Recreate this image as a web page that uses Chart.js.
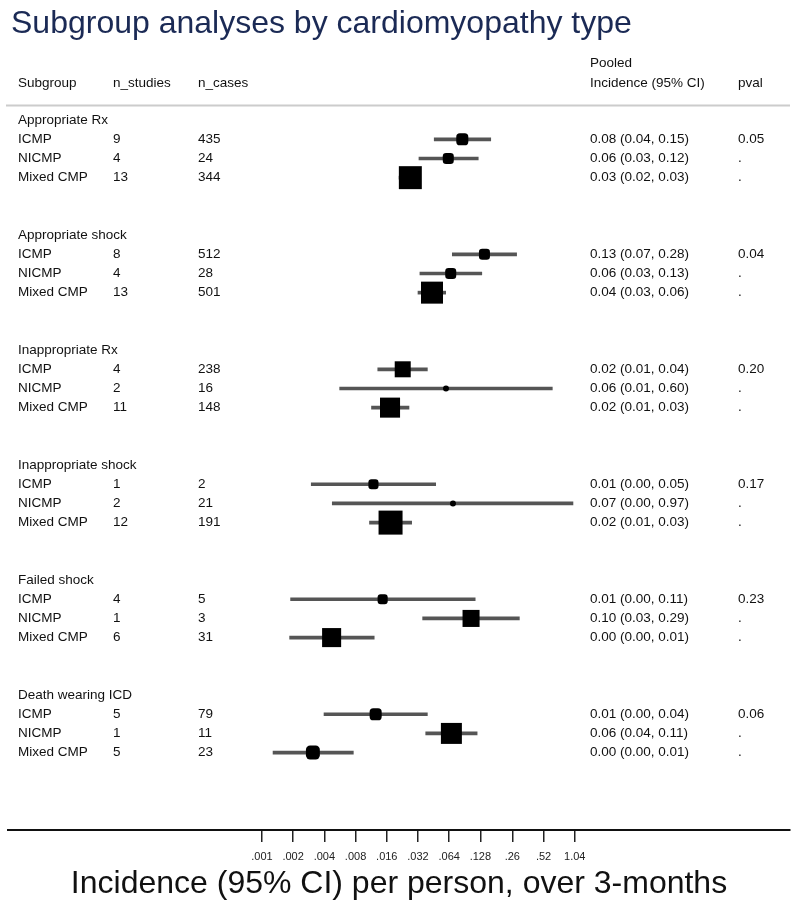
<!DOCTYPE html>
<html><head><meta charset="utf-8">
<script src="https://cdn.jsdelivr.net/npm/chart.js@4/dist/chart.umd.min.js"></script>
<style>html,body{margin:0;padding:0;background:#fff}#wrap{position:relative;width:796px;height:905px}</style>
</head><body><div id="wrap"><canvas id="c" width="796" height="905"></canvas></div>
<script>
const chartTitle = "Subgroup analyses by cardiomyopathy type";
const axisTitle = "Incidence (95% CI) per person, over 3-months";
const groups = ["Appropriate Rx","Appropriate shock","Inappropriate Rx","Inappropriate shock","Failed shock","Death wearing ICD"];
const cmpTypes = ["ICMP","NICMP","Mixed CMP"];
const nStudies = [9,4,13, 8,4,13, 4,2,11, 1,2,12, 4,1,6, 5,1,5];
const nCases = [435,24,344, 512,28,501, 238,16,148, 2,21,191, 5,3,31, 79,11,23];
const estimate = [0.0856,0.0627,0.0270, 0.140,0.0662,0.0437, 0.0228,0.0596,0.0172, 0.0119,0.0696,0.0174, 0.0146,0.104,0.0047, 0.0125,0.0672,0.0031];
const ciLow = [0.0459,0.0327,0.021, 0.0686,0.0334,0.032, 0.0131,0.00562,0.0114, 0.00299,0.00477,0.0109, 0.00189,0.0355,0.00185, 0.00397,0.038,0.00128];
const ciHigh = [0.161,0.122,0.033, 0.286,0.132,0.0592, 0.0394,0.632,0.0262, 0.0474,1.0,0.0278, 0.114,0.304,0.0121, 0.0394,0.119,0.00761];
const studyWeight = [30,25,109, 25,25,100, 53,7.4,83, 21,7.4,119, 21,60,75, 30,91,40];
const pooledLabels = ["0.08 (0.04, 0.15)","0.06 (0.03, 0.12)","0.03 (0.02, 0.03)",
  "0.13 (0.07, 0.28)","0.06 (0.03, 0.13)","0.04 (0.03, 0.06)",
  "0.02 (0.01, 0.04)","0.06 (0.01, 0.60)","0.02 (0.01, 0.03)",
  "0.01 (0.00, 0.05)","0.07 (0.00, 0.97)","0.02 (0.01, 0.03)",
  "0.01 (0.00, 0.11)","0.10 (0.03, 0.29)","0.00 (0.00, 0.01)",
  "0.01 (0.00, 0.04)","0.06 (0.04, 0.11)","0.00 (0.00, 0.01)"];
const pvals = ["0.05","0.04","0.20","0.17","0.23","0.06"];
const xTickValues = [0.001,0.002,0.004,0.008,0.016,0.032,0.064,0.128,0.26,0.52,1.04];
const xTickLabels = [".001",".002",".004",".008",".016",".032",".064",".128",".26",".52","1.04"];

// row index for each entry: group g title at 6g, items at 6g+1..6g+3
const rowOf = i => Math.floor(i/3)*6 + (i%3) + 1;
const sideOf = w => 2.2*Math.sqrt(w);

const ciData = estimate.map((_, i) => ({x:[ciLow[i], ciHigh[i]], y: rowOf(i)}));
const ptData = estimate.map((v, i) => ({x: v, y: rowOf(i)}));
const styles = studyWeight.map(w => { const s = sideOf(w); return s < 8 ? 'circle' : (s < 14 ? 'rectRounded' : 'rect'); });
const radii = studyWeight.map((w, i) => { const s = sideOf(w); return styles[i]==='circle' ? s/2 : (styles[i]==='rectRounded' ? s/1.716 : s/1.414); });

const FONT = '"Liberation Sans", Arial, Helvetica, sans-serif';

const textPlugin = {
  id: 'forestText',
  afterDraw(chart) {
    const ctx = chart.ctx, y = chart.scales.y;
    ctx.save();
    ctx.fillStyle = '#1b2a55';
    ctx.font = '32px ' + FONT;
    ctx.textBaseline = 'alphabetic';
    ctx.textAlign = 'left';
    ctx.fillText(chartTitle, 11, 33);
    ctx.fillStyle = '#111';
    ctx.font = '13.5px ' + FONT;
    ctx.textBaseline = 'middle';
    ctx.fillText('Subgroup', 18, 83);
    ctx.fillText('n_studies', 113, 83);
    ctx.fillText('n_cases', 198, 83);
    ctx.fillText('Pooled', 590, 63);
    ctx.fillText('Incidence (95% CI)', 590, 83);
    ctx.fillText('pval', 738, 83);
    ctx.strokeStyle = '#cccccc';
    ctx.lineWidth = 2;
    ctx.beginPath(); ctx.moveTo(6, 105.5); ctx.lineTo(790, 105.5); ctx.stroke();
    groups.forEach((g, gi) => {
      ctx.fillText(g, 18, y.getPixelForValue(gi*6));
    });
    estimate.forEach((_, i) => {
      const py = y.getPixelForValue(rowOf(i));
      ctx.fillText(cmpTypes[i%3], 18, py);
      ctx.fillText(String(nStudies[i]), 113, py);
      ctx.fillText(String(nCases[i]), 198, py);
      ctx.fillText(pooledLabels[i], 590, py);
      ctx.fillText(i%3===0 ? pvals[Math.floor(i/3)] : '.', 738, py);
    });
    ctx.restore();
  }
};

new Chart(document.getElementById('c'), {
  type: 'bar',
  data: {
    datasets: [
      { type: 'bar', indexAxis: 'y', data: ciData, backgroundColor: '#555', borderWidth: 0, barThickness: 3, order: 2 },
      { type: 'scatter', data: ptData, backgroundColor: '#000', borderColor: '#000', borderWidth: 0,
        pointStyle: styles, pointRadius: radii, pointHoverRadius: radii, order: 1 }
    ]
  },
  options: {
    responsive: false,
    animation: false,
    devicePixelRatio: 1,
    indexAxis: 'y',
    layout: { autoPadding: false, padding: { left: 8, right: 6, top: 101, bottom: 0 } },
    plugins: { legend: { display: false }, tooltip: { enabled: false } },
    scales: {
      y: { type: 'linear', reverse: true, min: -1, max: 37.04, offset: false, display: false },
      x: {
        type: 'logarithmic', min: 3.553e-6, max: 124, offset: false,
        afterBuildTicks: s => { s.ticks = xTickValues.map(v => ({value: v})); },
        afterFit: s => { s.height = 75; },
        ticks: { autoSkip: false, maxRotation: 0, color: '#222', font: { family: FONT, size: 11 }, padding: 8,
          callback: (v, i) => xTickLabels[i] },
        grid: { drawOnChartArea: false, drawTicks: true, tickLength: 12, color: '#222', lineWidth: 1.5 },
        border: { display: true, color: '#111', width: 2 },
        title: { display: true, text: axisTitle, color: '#111', font: { family: FONT, size: 32 }, padding: { top: 0, bottom: 2 } }
      }
    }
  },
  plugins: [textPlugin]
});
</script></body></html>
